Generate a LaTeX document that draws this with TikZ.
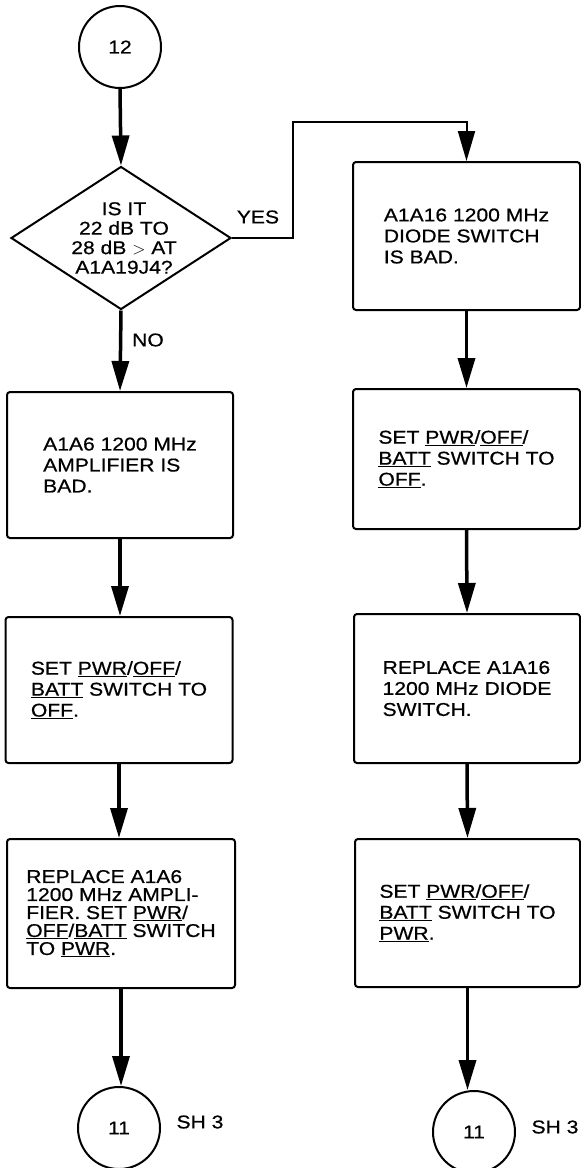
\documentclass[tikz,border=0pt]{standalone}
\usepackage{fontspec}
\newfontfamily\dfont[FakeStretch=1.14,FakeBold=0.6]{Liberation Sans}
\usetikzlibrary{shapes.geometric,arrows.meta}
\newcommand{\ul}[1]{\underline{#1}}
\tikzset{
  every node/.style={font=\dfont\fontsize{18.5}{21}\selectfont},
  stepbox/.style={draw, line width=2pt, rounded corners=3pt, align=left, inner sep=0pt},
  conn/.style={draw, circle, line width=2pt, minimum size=82pt, inner sep=0pt},
  decision/.style={draw, diamond, line width=2pt, minimum width=220pt, minimum height=143pt, inner sep=0pt},
  flow/.style={line width=3.5pt, -{Triangle[length=30pt,width=17pt]}},
  thinflow/.style={line width=2pt, -{Triangle[length=30pt,width=17pt]}},
}
\begin{document}
\begin{tikzpicture}[x=1pt,y=-1pt]
\useasboundingbox (0,0) rectangle (581,1168);
% left column
\node[conn] (c12) at (120,47) {12};
\node[decision] (d) at (121,238) {};
\node[align=center] (dt) at (124,238) {IS IT\\[-1.5pt]22 dB TO\\[-1.5pt]28 dB $>$ AT\\[-1.5pt]A1A19J4?};
\node[stepbox, minimum width=226pt, minimum height=146pt] (l1) at (120,465) {A1A6 1200 MHz\\AMPLIFIER IS\\BAD.};
\node[stepbox, minimum width=227pt, minimum height=146pt] (l2) at (119,690) {SET \ul{PWR}/\ul{OFF}/\\\ul{BATT} SWITCH TO\\\ul{OFF}.};
\node[stepbox, minimum width=228pt, minimum height=149pt, font=\dfont\fontsize{18.5}{18}\selectfont] (l3) at (121,913.5) {REPLACE A1A6\\1200 MHz AMPLI-\\FIER. SET \ul{PWR}/\\\ul{OFF}/\ul{BATT} SWITCH\\TO \ul{PWR}.};
\node[conn] (c11a) at (119,1128) {11};
\node (sha) at (200,1122) {SH 3};
% right column
\node[stepbox, minimum width=227pt, minimum height=148pt] (r1) at (466.5,236) {A1A16 1200 MHz\\DIODE SWITCH\\IS BAD.};
\node[stepbox, minimum width=227pt, minimum height=140pt] (r2) at (466.5,459) {SET \ul{PWR}/\ul{OFF}/\\\ul{BATT} SWITCH TO\\\ul{OFF}.};
\node[stepbox, minimum width=226pt, minimum height=149pt] (r3) at (467,688.5) {REPLACE A1A16\\1200 MHz DIODE\\SWITCH.};
\node[stepbox, minimum width=225pt, minimum height=148pt] (r4) at (467.5,913) {SET \ul{PWR}/\ul{OFF}/\\\ul{BATT} SWITCH TO\\\ul{PWR}.};
\node[conn] (c11b) at (474,1132) {11};
\node (shb) at (555,1127) {SH 3};
% labels
\node (yes) at (258,217) {YES};
\node (no) at (148,340) {NO};
% connectors
\coordinate (yk) at (293,122);
\draw[flow] (c12.south) -- (d.north);
\draw[flow] (d.south) -- (l1.north);
\draw[flow] (l1.south) -- (l1.south |- l2.north);
\draw[flow] (l2.south) -- (l2.south |- l3.north);
\draw[flow] (l3.south) -- (l3.south |- c11a.north);
\draw[thinflow] (d.east) -| (yk) -- (yk -| r1.north) -- (r1.north);
\draw[flow] (r1.south) -- (r2.north);
\draw[flow] (r2.south) -- (r3.north);
\draw[flow] (r3.south) -- (r4.north);
\draw[flow] (r4.south) -- (r4.south |- c11b.north);
\end{tikzpicture}
\end{document}
